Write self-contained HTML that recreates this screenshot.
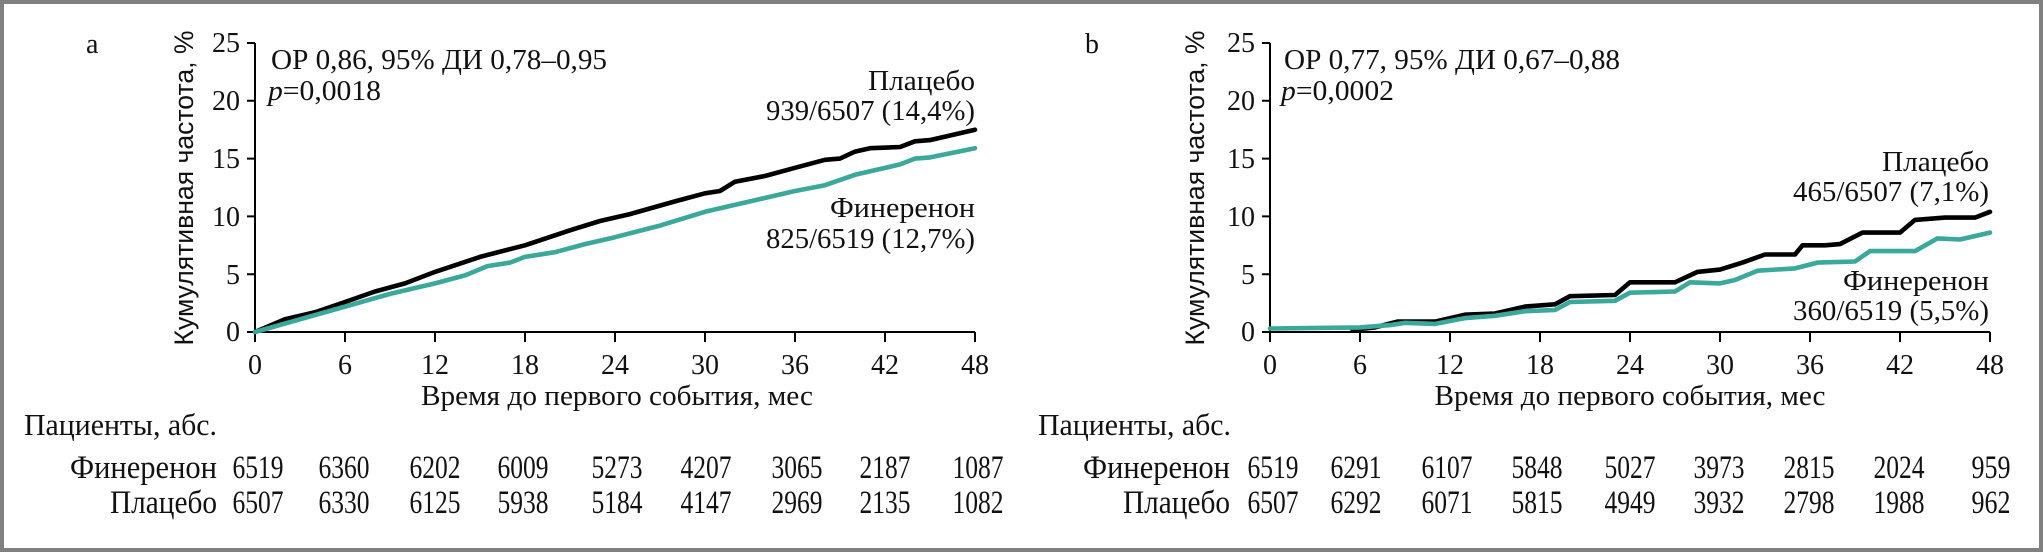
<!DOCTYPE html>
<html><head><meta charset="utf-8"><style>
html,body{margin:0;padding:0;background:#fff}
svg{display:block}
text{font-family:"Liberation Serif",serif;fill:#111}
.s{font-family:"Liberation Sans",sans-serif}
</style></head><body>
<svg width="2043" height="552" viewBox="0 0 2043 552" xmlns="http://www.w3.org/2000/svg">
<rect x="2" y="2" width="2039" height="548" fill="#fff" stroke="#808080" stroke-width="4"/>

<!-- LEFT CHART -->
<g stroke="#000" stroke-width="2" fill="none">
<path d="M255,43V332H975"/>
<path d="M247,43H255M247,100.8H255M247,158.6H255M247,216.4H255M247,274.2H255M247,332H255"/>
<path d="M255,332v10M345,332v10M435,332v10M525,332v10M615,332v10M705,332v10M795,332v10M885,332v10M975,332v10"/>
</g>
<g font-size="28" text-anchor="end">
<text x="240" y="52">25</text><text x="240" y="110">20</text><text x="240" y="168">15</text>
<text x="240" y="226">10</text><text x="240" y="284">5</text><text x="240" y="341">0</text>
</g>
<g font-size="28" text-anchor="middle">
<text x="255" y="374">0</text><text x="345" y="374">6</text><text x="435" y="374">12</text><text x="525" y="374">18</text><text x="615" y="374">24</text><text x="705" y="374">30</text><text x="795" y="374">36</text><text x="885" y="374">42</text><text x="975" y="374">48</text>
</g>
<text x="617" y="405" font-size="28" text-anchor="middle" textLength="392" lengthAdjust="spacingAndGlyphs">Время до первого события, мес</text>
<text class="s" font-size="27" text-anchor="middle" transform="translate(193,188) rotate(-90)" textLength="315" lengthAdjust="spacingAndGlyphs">Кумулятивная частота, %</text>
<text x="86" y="53" font-size="28">a</text>
<text x="271" y="69" font-size="28" textLength="336" lengthAdjust="spacingAndGlyphs">ОР 0,86, 95% ДИ 0,78–0,95</text>
<text x="268" y="100" font-size="28" textLength="113" lengthAdjust="spacingAndGlyphs"><tspan font-style="italic">p</tspan>=0,0018</text>
<g font-size="28" text-anchor="end">
<text x="975" y="90" textLength="107" lengthAdjust="spacingAndGlyphs">Плацебо</text>
<text x="975" y="120" textLength="209" lengthAdjust="spacingAndGlyphs">939/6507 (14,4%)</text>
<text x="975" y="217" textLength="145" lengthAdjust="spacingAndGlyphs">Финеренон</text>
<text x="975" y="248" textLength="209" lengthAdjust="spacingAndGlyphs">825/6519 (12,7%)</text>
</g>
<polyline fill="none" stroke="#000" stroke-width="4.6" stroke-linejoin="round" stroke-linecap="round" points="255,332 285,319.3 315,312.3 345,302 375,291.5 405,283.4 435,271.9 480,256.9 525,245.3 570,230.3 600,221 630,214.1 675,201.4 705,193.3 720,191 735,181.7 765,176 795,167.8 825,159.8 840,158.6 855,151.6 870,148.2 900,147 915,141.3 930,140.1 975,129.7"/>
<polyline fill="none" stroke="#3aa89a" stroke-width="4.6" stroke-linejoin="round" stroke-linecap="round" points="255,332 300,319.3 345,306.6 390,293.9 435,283.4 465,275.4 487.5,266.1 510,262.6 525,256.9 555,252.2 585,244.1 615,237.2 660,225.6 705,211.8 750,201.4 795,191 825,185.2 855,174.8 885,167.9 900,164.4 915,158.6 930,157.4 975,148.2"/>
<text x="24" y="435" font-size="31" textLength="193" lengthAdjust="spacingAndGlyphs">Пациенты, абс.</text>
<text x="217" y="478" font-size="33" text-anchor="end" textLength="147" lengthAdjust="spacingAndGlyphs">Финеренон</text>
<text x="217" y="513" font-size="33" text-anchor="end" textLength="107" lengthAdjust="spacingAndGlyphs">Плацебо</text>
<g font-size="33" text-anchor="middle">
<text x="258" y="478" textLength="51" lengthAdjust="spacingAndGlyphs">6519</text><text x="344" y="478" textLength="51" lengthAdjust="spacingAndGlyphs">6360</text><text x="435" y="478" textLength="51" lengthAdjust="spacingAndGlyphs">6202</text><text x="523" y="478" textLength="51" lengthAdjust="spacingAndGlyphs">6009</text><text x="617" y="478" textLength="51" lengthAdjust="spacingAndGlyphs">5273</text><text x="706" y="478" textLength="51" lengthAdjust="spacingAndGlyphs">4207</text><text x="797" y="478" textLength="51" lengthAdjust="spacingAndGlyphs">3065</text><text x="885" y="478" textLength="51" lengthAdjust="spacingAndGlyphs">2187</text><text x="978" y="478" textLength="51" lengthAdjust="spacingAndGlyphs">1087</text>
<text x="258" y="513" textLength="51" lengthAdjust="spacingAndGlyphs">6507</text><text x="344" y="513" textLength="51" lengthAdjust="spacingAndGlyphs">6330</text><text x="435" y="513" textLength="51" lengthAdjust="spacingAndGlyphs">6125</text><text x="523" y="513" textLength="51" lengthAdjust="spacingAndGlyphs">5938</text><text x="617" y="513" textLength="51" lengthAdjust="spacingAndGlyphs">5184</text><text x="706" y="513" textLength="51" lengthAdjust="spacingAndGlyphs">4147</text><text x="797" y="513" textLength="51" lengthAdjust="spacingAndGlyphs">2969</text><text x="885" y="513" textLength="51" lengthAdjust="spacingAndGlyphs">2135</text><text x="978" y="513" textLength="51" lengthAdjust="spacingAndGlyphs">1082</text>
</g>

<!-- RIGHT CHART -->
<g stroke="#000" stroke-width="2" fill="none">
<path d="M1270,43V332H1990"/>
<path d="M1262,43H1270M1262,100.8H1270M1262,158.6H1270M1262,216.4H1270M1262,274.2H1270M1262,332H1270"/>
<path d="M1270,332v10M1360,332v10M1450,332v10M1540,332v10M1630,332v10M1720,332v10M1810,332v10M1900,332v10M1990,332v10"/>
</g>
<g font-size="28" text-anchor="end">
<text x="1255" y="52">25</text><text x="1255" y="110">20</text><text x="1255" y="168">15</text>
<text x="1255" y="226">10</text><text x="1255" y="284">5</text><text x="1255" y="341">0</text>
</g>
<g font-size="28" text-anchor="middle">
<text x="1270" y="374">0</text><text x="1360" y="374">6</text><text x="1450" y="374">12</text><text x="1540" y="374">18</text><text x="1630" y="374">24</text><text x="1720" y="374">30</text><text x="1810" y="374">36</text><text x="1900" y="374">42</text><text x="1990" y="374">48</text>
</g>
<text x="1630" y="405" font-size="28" text-anchor="middle" textLength="391" lengthAdjust="spacingAndGlyphs">Время до первого события, мес</text>
<text class="s" font-size="27" text-anchor="middle" transform="translate(1204,188) rotate(-90)" textLength="315" lengthAdjust="spacingAndGlyphs">Кумулятивная частота, %</text>
<text x="1085" y="53" font-size="28">b</text>
<text x="1284" y="69" font-size="28" textLength="336" lengthAdjust="spacingAndGlyphs">ОР 0,77, 95% ДИ 0,67–0,88</text>
<text x="1281" y="100" font-size="28" textLength="113" lengthAdjust="spacingAndGlyphs"><tspan font-style="italic">p</tspan>=0,0002</text>
<g font-size="28" text-anchor="end">
<text x="1989" y="171" textLength="107" lengthAdjust="spacingAndGlyphs">Плацебо</text>
<text x="1989" y="201" textLength="196" lengthAdjust="spacingAndGlyphs">465/6507 (7,1%)</text>
<text x="1989" y="290" textLength="146" lengthAdjust="spacingAndGlyphs">Финеренон</text>
<text x="1989" y="320" textLength="196" lengthAdjust="spacingAndGlyphs">360/6519 (5,5%)</text>
</g>
<polyline fill="none" stroke="#000" stroke-width="4.6" stroke-linejoin="round" stroke-linecap="round" points="1352.5,329.7 1375,327.4 1397.5,321.6 1435,321.6 1465,314.7 1495,313.5 1525,306.6 1555,304.3 1570,296.2 1615,295 1630,282.3 1675,282.3 1697.5,271.9 1720,269.6 1742.5,262.6 1765,254.5 1795,254.5 1802.5,245.3 1825,245.3 1840,244.1 1862.5,232.6 1900,232.6 1915,219.9 1945,217.6 1975,217.6 1990,211.8"/>
<polyline fill="none" stroke="#3aa89a" stroke-width="4.6" stroke-linejoin="round" stroke-linecap="round" points="1270,328.5 1360,327.4 1390,325.1 1405,322.8 1435,323.9 1465,318.1 1495,315.8 1525,311.2 1555,310 1570,302 1615,300.8 1630,292.7 1675,291.5 1690,282.3 1720,283.4 1735,280 1757.5,270.7 1795,268.4 1817.5,262.6 1855,261.5 1870,251.1 1915,251.1 1937.5,238.4 1960,239.5 1990,232.6"/>
<text x="1038" y="435" font-size="31" textLength="193" lengthAdjust="spacingAndGlyphs">Пациенты, абс.</text>
<text x="1230" y="478" font-size="33" text-anchor="end" textLength="147" lengthAdjust="spacingAndGlyphs">Финеренон</text>
<text x="1230" y="513" font-size="33" text-anchor="end" textLength="107" lengthAdjust="spacingAndGlyphs">Плацебо</text>
<g font-size="33" text-anchor="middle">
<text x="1273" y="478" textLength="51" lengthAdjust="spacingAndGlyphs">6519</text><text x="1356" y="478" textLength="51" lengthAdjust="spacingAndGlyphs">6291</text><text x="1447" y="478" textLength="51" lengthAdjust="spacingAndGlyphs">6107</text><text x="1537" y="478" textLength="51" lengthAdjust="spacingAndGlyphs">5848</text><text x="1630" y="478" textLength="51" lengthAdjust="spacingAndGlyphs">5027</text><text x="1719" y="478" textLength="51" lengthAdjust="spacingAndGlyphs">3973</text><text x="1809" y="478" textLength="51" lengthAdjust="spacingAndGlyphs">2815</text><text x="1899" y="478" textLength="51" lengthAdjust="spacingAndGlyphs">2024</text><text x="1991" y="478" textLength="39" lengthAdjust="spacingAndGlyphs">959</text>
<text x="1273" y="513" textLength="51" lengthAdjust="spacingAndGlyphs">6507</text><text x="1356" y="513" textLength="51" lengthAdjust="spacingAndGlyphs">6292</text><text x="1447" y="513" textLength="51" lengthAdjust="spacingAndGlyphs">6071</text><text x="1537" y="513" textLength="51" lengthAdjust="spacingAndGlyphs">5815</text><text x="1630" y="513" textLength="51" lengthAdjust="spacingAndGlyphs">4949</text><text x="1719" y="513" textLength="51" lengthAdjust="spacingAndGlyphs">3932</text><text x="1809" y="513" textLength="51" lengthAdjust="spacingAndGlyphs">2798</text><text x="1899" y="513" textLength="51" lengthAdjust="spacingAndGlyphs">1988</text><text x="1991" y="513" textLength="39" lengthAdjust="spacingAndGlyphs">962</text>
</g>
</svg>
</body></html>
